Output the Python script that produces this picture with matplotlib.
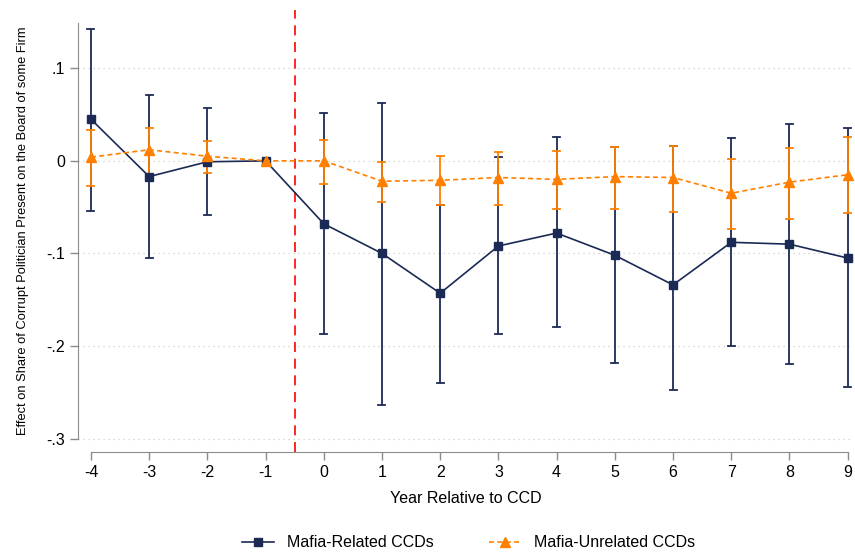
import matplotlib
matplotlib.use("Agg")
import matplotlib.pyplot as plt
from matplotlib.lines import Line2D

plt.rcParams['font.family'] = ['Liberation Sans', 'DejaVu Sans']

years = [-4, -3, -2, -1, 0, 1, 2, 3, 4, 5, 6, 7, 8, 9]

related = [0.045, -0.017, -0.001, 0.0, -0.068, -0.100, -0.143, -0.092, -0.078, -0.102, -0.134, -0.088, -0.090, -0.105]
related_hi = [0.142, 0.071, 0.057, 0.0, 0.052, 0.063, -0.048, 0.004, 0.026, 0.015, 0.016, 0.025, 0.040, 0.035]
related_lo = [-0.054, -0.105, -0.059, 0.0, -0.187, -0.264, -0.240, -0.187, -0.180, -0.218, -0.248, -0.200, -0.220, -0.244]

unrelated = [0.004, 0.012, 0.005, 0.0, 0.0, -0.022, -0.021, -0.018, -0.020, -0.017, -0.018, -0.035, -0.023, -0.015]
unrelated_hi = [0.033, 0.036, 0.021, 0.0, 0.022, -0.001, 0.005, 0.010, 0.011, 0.015, 0.016, 0.002, 0.014, 0.026]
unrelated_lo = [-0.027, -0.014, -0.013, 0.0, -0.025, -0.044, -0.048, -0.048, -0.052, -0.052, -0.055, -0.074, -0.063, -0.056]

yticks = [0.1, 0.0, -0.1, -0.2, -0.3]
ytick_labels = ['.1', '0', '-.1', '-.2', '-.3']

navy = '#1b2a55'
orange = '#ff8000'
gray = '#8c8c8c'

fig = plt.figure(figsize=(8.55, 5.54), dpi=100)
ax = fig.add_axes([0.0912, 0.184, 0.907, 0.798])

ax.set_xlim(-4.223, 9.1)
ax.set_ylim(-0.3146, 0.163)

for v in yticks:
    ax.axhline(v, color='#cfcfcf', linestyle=(0, (1, 3)), linewidth=0.9, zorder=0)

ax.axvline(-0.5, color='#ff0000', linestyle=(0, (6, 4)), linewidth=1.2, zorder=1)

def draw_err(xs, lo, hi, color, z):
    for x, l, h in zip(xs, lo, hi):
        if h - l <= 0:
            continue
        ax.plot([x, x], [l, h], color=color, linewidth=1.3, zorder=z, solid_capstyle='butt')
        for yy in (l, h):
            ax.plot([x - 0.06, x + 0.06], [yy, yy], color=color, linewidth=1.3, zorder=z)

draw_err(years, related_lo, related_hi, navy, 2)
draw_err(years, unrelated_lo, unrelated_hi, orange, 3)

ax.plot(years, related, color=navy, linewidth=1.2, marker='s', markersize=5.5, zorder=4)
ax.plot(years, unrelated, color=orange, linewidth=1.2, linestyle=(0, (3, 2)), marker='^', markersize=6.5, zorder=5)

ax.set_xticks(years)
ax.set_xticklabels([str(y) for y in years], fontsize=11.5)
ax.set_yticks(yticks)
ax.set_yticklabels(ytick_labels, fontsize=11.5)
ax.tick_params(axis='both', direction='out', color=gray, length=6, width=1, labelcolor='black')
ax.tick_params(axis='x', pad=3)

for s in ['top', 'right']:
    ax.spines[s].set_visible(False)
ax.spines['left'].set_color(gray)
ax.spines['bottom'].set_color(gray)
ax.spines['left'].set_bounds(-0.3, 0.149)
ax.spines['bottom'].set_bounds(-4, 9)

ax.set_xlabel('Year Relative to CCD', fontsize=11.5, labelpad=8)
ax.set_ylabel('Effect on Share of Corrupt Politician Present on the Board of some Firm', fontsize=9.3, labelpad=12)

handles = [
    Line2D([0], [0], color=navy, linewidth=1.2, marker='s', markersize=5.5),
    Line2D([0], [0], color=orange, linewidth=1.2, linestyle=(0, (3, 2)), marker='^', markersize=6.5),
]
fig.legend(handles, ['Mafia-Related CCDs', 'Mafia-Unrelated CCDs'], loc='center',
           bbox_to_anchor=(0.548, 0.02), ncol=2, frameon=False, fontsize=11.5,
           handlelength=2.0, handletextpad=0.8, columnspacing=3.5)

fig.savefig('out.png', dpi=100)
